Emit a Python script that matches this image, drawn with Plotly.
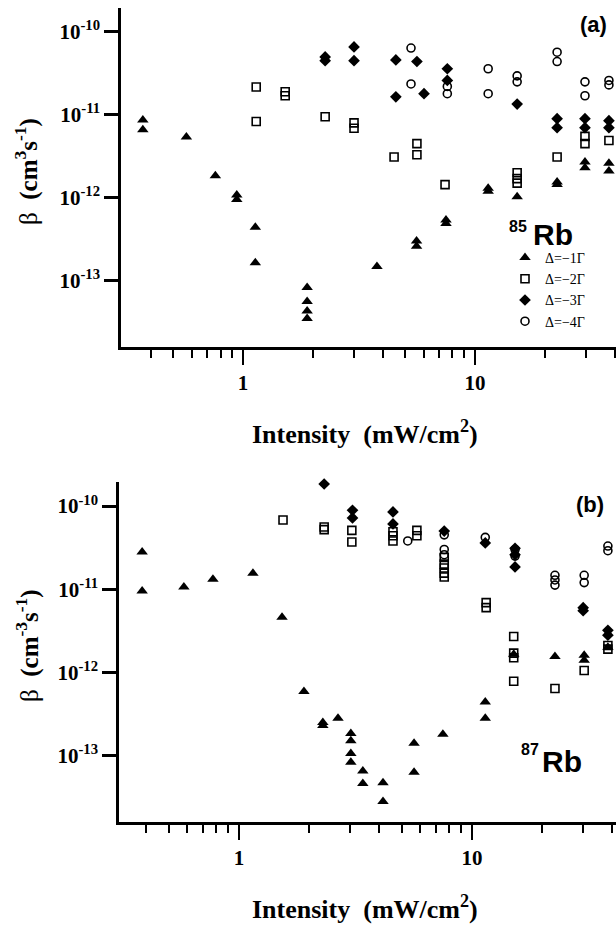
import plotly.graph_objects as go

# ---------------- data: panel (a) 85Rb ----------------
tri_a_x = [0.37, 0.37, 0.57, 0.76, 0.94, 0.94, 1.13, 1.13, 1.89, 1.89, 1.89, 1.89,
           3.78, 5.6, 5.6, 7.5, 7.5, 11.4, 11.4, 15.2, 22.6, 22.6, 29.8, 29.8, 37.8, 37.8]
tri_a_y = [8.7e-12, 6.6e-12, 5.4e-12, 1.84e-12, 1.08e-12, 9.5e-13, 4.4e-13, 1.65e-13,
           8.3e-14, 5.6e-14, 4.3e-14, 3.5e-14, 1.48e-13, 3.0e-13, 2.6e-13, 5.4e-13, 4.9e-13,
           1.3e-12, 1.2e-12, 1.03e-12, 1.55e-12, 1.45e-12, 2.7e-12, 2.3e-12, 2.6e-12, 2.1e-12]

sq_a_x = [1.14, 1.14, 1.52, 1.52, 2.26, 3.01, 3.01, 4.48, 5.62, 5.62, 7.43,
          15.2, 15.2, 15.2, 22.6, 29.8, 29.8, 37.8]
sq_a_y = [2.17e-11, 8.3e-12, 1.9e-11, 1.7e-11, 9.5e-12, 8.0e-12, 6.9e-12, 3.1e-12,
          4.5e-12, 3.3e-12, 1.44e-12, 2.0e-12, 1.7e-12, 1.5e-12, 3.1e-12, 5.5e-12, 4.5e-12, 4.9e-12]

dia_a_x = [2.26, 2.26, 3.01, 3.01, 4.56, 4.56, 5.62, 6.03, 7.6, 7.6, 15.2,
           22.6, 22.6, 29.8, 29.8, 37.8, 37.8]
dia_a_y = [5.0e-11, 4.5e-11, 6.6e-11, 4.5e-11, 4.6e-11, 1.65e-11, 4.4e-11, 1.8e-11,
           3.6e-11, 2.6e-11, 1.35e-11, 9.0e-12, 7.0e-12, 9.0e-12, 7.0e-12, 8.5e-12, 7.0e-12]

circ_a_x = [5.3, 5.3, 7.6, 7.6, 11.4, 11.4, 15.2, 15.2, 22.6, 22.6, 29.8, 29.8, 37.8, 37.8]
circ_a_y = [6.4e-11, 2.36e-11, 2.2e-11, 1.8e-11, 3.6e-11, 1.8e-11, 2.95e-11, 2.5e-11,
            5.7e-11, 4.4e-11, 2.5e-11, 1.7e-11, 2.6e-11, 2.3e-11]

# ---------------- data: panel (b) 87Rb ----------------
tri_b_x = [0.384, 0.384, 0.58, 0.773, 1.148, 1.53, 1.9, 2.29, 2.29, 2.66,
           3.02, 3.02, 3.02, 3.02, 3.4, 3.4, 4.15, 4.15, 5.64, 5.64, 7.5,
           11.4, 11.4, 15.1, 22.7, 30.3, 30.3, 38.3]
tri_b_y = [2.8e-11, 9.5e-12, 1.06e-11, 1.32e-11, 1.55e-11, 4.6e-12, 5.9e-13, 2.5e-13, 2.3e-13, 2.8e-13,
           1.84e-13, 1.5e-13, 1.06e-13, 8.3e-14, 6.5e-14, 4.6e-14, 4.7e-14, 2.8e-14, 1.4e-13, 6.3e-14, 1.8e-13,
           4.4e-13, 2.8e-13, 1.65e-12, 1.55e-12, 1.6e-12, 1.4e-12, 2.0e-12]

sq_b_x = [1.545, 2.32, 2.32, 3.05, 3.05, 4.58, 4.58, 4.58, 5.8, 5.8,
          7.6, 7.6, 7.6, 7.6, 7.6, 11.5, 11.5, 15.1, 15.1, 15.1, 15.1, 22.7, 30.3, 38.3, 38.3]
sq_b_y = [6.8e-11, 5.6e-11, 5.2e-11, 5.1e-11, 3.7e-11, 4.9e-11, 4.4e-11, 3.8e-11, 5.1e-11, 4.4e-11,
          2.4e-11, 2.0e-11, 1.8e-11, 1.56e-11, 1.4e-11, 6.9e-12, 6.0e-12, 2.7e-12, 1.7e-12, 1.5e-12, 7.8e-13,
          6.4e-13, 1.05e-12, 2.1e-12, 1.9e-12]

dia_b_x = [2.32, 3.07, 3.07, 4.58, 4.58, 7.6, 11.4, 15.3, 15.3, 15.3, 30.0, 30.0, 38.3, 38.3]
dia_b_y = [1.84e-10, 8.9e-11, 7.2e-11, 8.5e-11, 6.1e-11, 5.0e-11, 3.6e-11, 3.1e-11, 2.6e-11, 1.85e-11,
           6.0e-12, 5.5e-12, 3.2e-12, 2.8e-12]

circ_b_x = [5.3, 7.6, 7.6, 7.6, 11.4, 15.3, 15.3, 22.7, 22.7, 22.7, 30.3, 30.3, 38.3, 38.3]
circ_b_y = [3.8e-11, 4.5e-11, 3.0e-11, 2.6e-11, 4.2e-11, 3.0e-11, 2.5e-11, 1.47e-11, 1.29e-11, 1.12e-11,
            1.47e-11, 1.2e-11, 3.3e-11, 2.9e-11]

series_names = ["Δ=−1Γ", "Δ=−2Γ", "Δ=−3Γ", "Δ=−4Γ"]

# ---------------- tick definitions ----------------
x_major = [1, 10]
x_major_text = ["1", "10"]
x_minor = [0.4, 0.5, 0.6, 0.7, 0.8, 0.9, 2, 3, 4, 5, 6, 7, 8, 9, 20, 30, 40]
x_tiny = [1.2, 1.4, 1.6, 1.8, 12, 14, 16, 18]
y_ticks = [1e-13, 1e-12, 1e-11, 1e-10]
y_ticktext = ["10<sup>-13</sup>", "10<sup>-12</sup>", "10<sup>-11</sup>", "10<sup>-10</sup>"]

W, H = 616, 927
SERIF = "Liberation Serif"
SANS = "Liberation Sans"

styles = [
    dict(symbol="triangle-up", size=10, color="black", line=dict(width=0)),
    dict(symbol="square-open", size=8, color="black", line=dict(width=1.6, color="black")),
    dict(symbol="diamond", size=9, color="black", line=dict(width=0)),
    dict(symbol="circle-open", size=8, color="black", line=dict(width=1.6, color="black")),
]

fig = go.Figure()

panels = [
    ("x", "y", [(tri_a_x, tri_a_y), (sq_a_x, sq_a_y), (dia_a_x, dia_a_y), (circ_a_x, circ_a_y)], True),
    ("x2", "y2", [(tri_b_x, tri_b_y), (sq_b_x, sq_b_y), (dia_b_x, dia_b_y), (circ_b_x, circ_b_y)], False),
]
for xa, ya, data, show in panels:
    for (xs, ys), st, nm in zip(data, styles, series_names):
        fig.add_trace(go.Scatter(x=xs, y=ys, mode="markers", name=nm, marker=st,
                                 xaxis=xa, yaxis=ya, showlegend=show, cliponaxis=False))

# panel geometry (pixels)
ax_a = dict(left=121, top=8, bottom=347, xr=[-0.526, 1.608])
ax_b = dict(left=119, top=482, bottom=822, xr=[-0.515, 1.618])
yr = [-13.80, -9.711]


def xaxis_def(geom, anchor):
    return dict(
        type="log", range=geom["xr"], domain=[geom["left"] / W, 1.0], anchor=anchor,
        showline=True, linecolor="black", linewidth=2.5, showgrid=False, zeroline=False,
        tickmode="array", tickvals=x_major, ticktext=x_major_text, ticks="outside",
        ticklen=15, tickwidth=2, tickcolor="black",
        tickfont=dict(family=SERIF, size=21, color="black", weight="bold"),
        minor=dict(tickmode="array", tickvals=x_minor, ticks="outside", ticklen=8,
                   tickwidth=2, tickcolor="black", showgrid=False),
        automargin=False,
    )


def tiny_axis(geom, anchor, over):
    return dict(
        type="log", range=geom["xr"], anchor=anchor, overlaying=over, side="bottom",
        showline=False, showgrid=False, zeroline=False, tickmode="array", tickvals=x_tiny,
        ticks="outside", ticklen=3, tickwidth=2, tickcolor="black", showticklabels=False,
        automargin=False,
    )


def yaxis_def(geom, anchor):
    return dict(
        type="log", range=yr, domain=[1 - geom["bottom"] / H, 1 - geom["top"] / H], anchor=anchor,
        showline=True, linecolor="black", linewidth=2.5, showgrid=False, zeroline=False,
        tickmode="array", tickvals=y_ticks, ticktext=y_ticktext, ticks="outside",
        ticklen=14, tickwidth=2.5, tickcolor="black",
        tickfont=dict(family=SERIF, size=21, color="black", weight="bold"),
        automargin=False,
    )


fig.update_layout(
    width=W, height=H,
    margin=dict(l=0, r=0, t=0, b=0),
    paper_bgcolor="white", plot_bgcolor="white",
    xaxis=xaxis_def(ax_a, "y"),
    yaxis=yaxis_def(ax_a, "x"),
    xaxis2=xaxis_def(ax_b, "y2"),
    yaxis2=yaxis_def(ax_b, "x2"),
    xaxis3=tiny_axis(ax_a, "y", "x"),
    xaxis4=tiny_axis(ax_b, "y2", "x2"),
    legend=dict(x=505 / W, y=1 - 242 / H, xanchor="left", yanchor="top",
                font=dict(family=SERIF, size=14, color="black"),
                bgcolor="rgba(0,0,0,0)", tracegroupgap=0, itemwidth=30),
    showlegend=True,
)


def ann(text, x, y, size, family=SERIF, bold=True, angle=0, xanchor="center"):
    fig.add_annotation(text=text, x=x / W, y=1 - y / H, xref="paper", yref="paper",
                       showarrow=False, textangle=angle, xanchor=xanchor, yanchor="middle",
                       font=dict(family=family, size=size, color="black",
                                 weight="bold" if bold else "normal"))


# axis titles
ann("Intensity  (mW/cm<sup>2</sup>)", 365, 432, 26)
ann("Intensity  (mW/cm<sup>2</sup>)", 365, 907, 26)
ann("<span style='font-weight:normal'>β</span>  (cm<sup>3</sup>s<sup>-1</sup>)", 27, 172, 25, angle=-90)
ann("<span style='font-weight:normal'>β</span>  (cm<sup>-3</sup>s<sup>-1</sup>)", 27, 646, 25, angle=-90)

# panel labels
ann("(a)", 593, 24, 22, family=SANS)
ann("(b)", 590, 504, 22, family=SANS)
ann("85", 518, 227, 16, family=SANS)
ann("Rb", 553, 234, 30, family=SANS)
ann("87", 530, 749, 16, family=SANS)
ann("Rb", 562, 761, 30, family=SANS)

fig.write_html("out.html", config={"displayModeBar": False},
               post_script="document.body.style.margin='0';document.body.style.overflow='hidden';")
